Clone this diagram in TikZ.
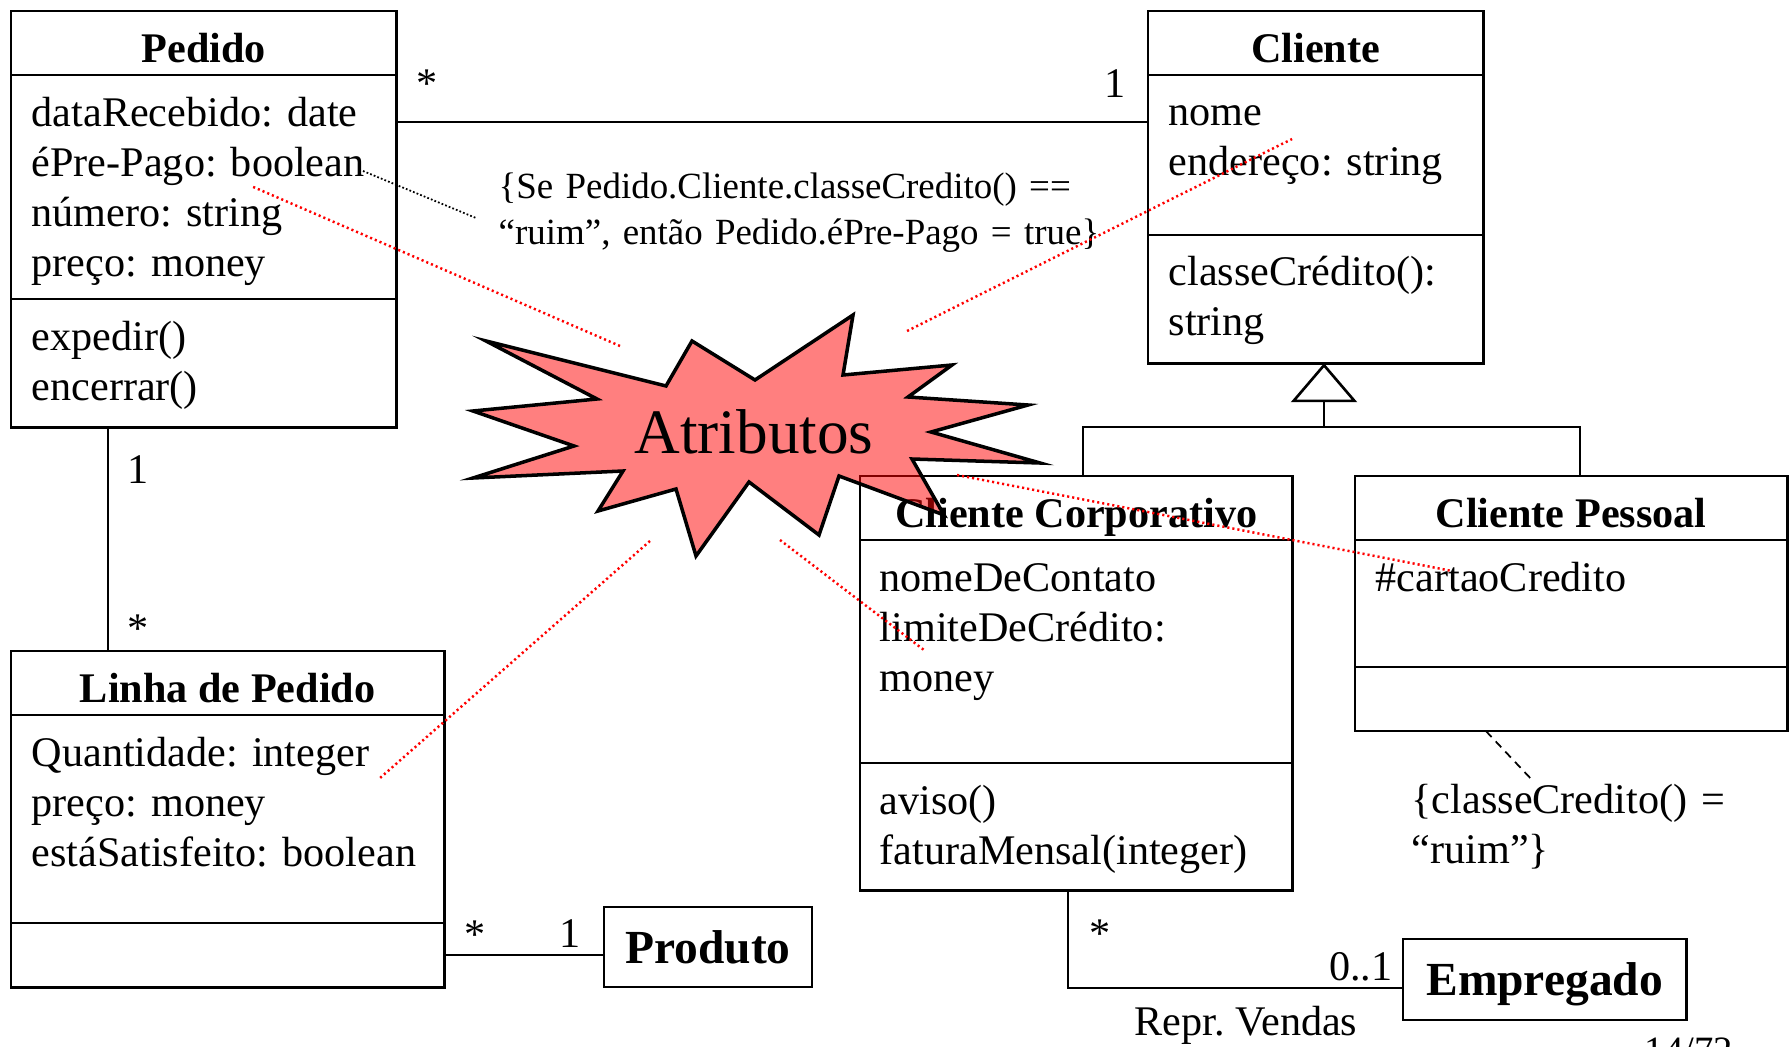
\documentclass[tikz,border=0pt]{standalone}
\usepackage{fontspec}
\setmainfont{Liberation Serif}
\frenchspacing
\usetikzlibrary{positioning,arrows.meta}
\definecolor{burst}{HTML}{FF0000}
\tikzset{
    %Define standard text
    every node/.style={font=\fontsize{12pt}{14.3pt}\selectfont},
    %Define style for class name compartments
    classname/.style={
        rectangle,
        draw=black, line width=0.75pt,
        inner sep=0pt, outer sep=0pt,
        minimum height=0.64cm,
        text height=0.38cm, text depth=0cm,
        font=\fontsize{12pt}{14.3pt}\selectfont\bfseries
    },
    %Define style for attribute and operation compartments
    compart/.style={
        rectangle,
        draw=black, line width=0.75pt,
        inner sep=0pt, outer sep=0pt
    },
    members/.style={
        anchor=base west,
        inner sep=0pt,
        align=left
    },
    %Define style for one-box classes
    bigclass/.style={
        rectangle,
        draw=black, line width=0.75pt,
        inner sep=0pt, outer sep=0pt,
        text height=0.34cm, text depth=0.02cm,
        font=\fontsize{13.5pt}{16pt}\selectfont\bfseries
    },
    mult/.style={anchor=base, inner sep=0pt},
    % Define line styles
    assoc/.style={draw=black, line width=0.75pt},
    hint/.style={draw=burst, line width=0.7pt, dash pattern=on 0.6pt off 0.85pt},
    noteline/.style={draw=black, line width=0.5pt, dash pattern=on 0.5pt off 0.6pt},
    constraint/.style={draw=black, line width=0.5pt, dash pattern=on 2.3pt off 1.7pt}
}

\begin{document}
\begin{tikzpicture}[x=0.01cm,y=-0.01cm]
    \fill[white] (0,0) rectangle (1789,1046);
    \useasboundingbox (0,0) rectangle (1789,1046);
    %classes
    \node[classname, minimum width=3.85cm, anchor=north west] (pedidoT) at (11,11) {Pedido};
    \node[compart, minimum width=3.85cm, minimum height=2.24cm, below=0pt of pedidoT] (pedidoA) {};
    \node[compart, minimum width=3.85cm, minimum height=1.28cm, below=0pt of pedidoA] (pedidoO) {};
    \node[members, text width=3.55cm] (pedidoAtxt) at ([shift={(20,51)}]pedidoA.north west) {dataRecebido: date\\éPre-Pago: boolean\\número: string\\preço: money};
    \node[members, text width=3.55cm] (pedidoOtxt) at ([shift={(20,51)}]pedidoO.north west) {expedir()\\encerrar()};

    \node[classname, minimum width=3.35cm, anchor=north west] (clienteT) at (1148,11) {Cliente};
    \node[compart, minimum width=3.35cm, minimum height=1.60cm, below=0pt of clienteT] (clienteA) {};
    \node[compart, minimum width=3.35cm, minimum height=1.28cm, below=0pt of clienteA] (clienteO) {};
    \node[members, text width=3.05cm] (clienteAtxt) at ([shift={(20,50)}]clienteA.north west) {nome\\endereço: string};
    \node[members, text width=3.05cm] (clienteOtxt) at ([shift={(20,50)}]clienteO.north west) {classeCrédito():\\string};

    \node[classname, minimum width=4.32cm, anchor=north west] (corpT) at (860,476) {Cliente Corporativo};
    \node[compart, minimum width=4.32cm, minimum height=2.23cm, below=0pt of corpT] (corpA) {};
    \node[compart, minimum width=4.32cm, minimum height=1.27cm, below=0pt of corpA] (corpO) {};
    \node[members, text width=4.0cm] (corpAtxt) at ([shift={(19,51)}]corpA.north west) {nomeDeContato\\limiteDeCrédito:\\money};
    \node[members, text width=4.0cm] (corpOtxt) at ([shift={(19,51)}]corpO.north west) {aviso()\\faturaMensal(integer)};

    \node[classname, minimum width=4.32cm, anchor=north west] (pessT) at (1355,476) {Cliente Pessoal};
    \node[compart, minimum width=4.32cm, minimum height=1.27cm, below=0pt of pessT] (pessA) {};
    \node[compart, minimum width=4.32cm, minimum height=0.64cm, below=0pt of pessA] (pessO) {};
    \node[members, text width=4.0cm] (pessAtxt) at ([shift={(20,51)}]pessA.north west) {\#cartaoCredito};

    \node[classname, minimum width=4.33cm, anchor=north west] (linhaT) at (11,651) {Linha de Pedido};
    \node[compart, minimum width=4.33cm, minimum height=2.08cm, below=0pt of linhaT] (linhaA) {};
    \node[compart, minimum width=4.33cm, minimum height=0.64cm, below=0pt of linhaA] (linhaO) {};
    \node[members, text width=4.05cm] (linhaAtxt) at ([shift={(20,51)}]linhaA.north west) {Quantidade: integer\\preço: money\\estáSatisfeito: boolean};

    \node[bigclass, minimum width=2.08cm, minimum height=0.80cm, anchor=north west] (produto) at (604,907) {Produto};
    \node[bigclass, minimum width=2.83cm, minimum height=0.81cm, anchor=north west] (empregado) at (1403,939) {Empregado};

    %associations
    \draw[assoc] (pedidoA.east |- 0,122) -- (clienteA.west |- 0,122);
    \draw[assoc] (pedidoO.south -| 108,0) -- (linhaT.north -| 108,0);
    \draw[assoc] (linhaO.east |- 0,955) -- (produto.west |- 0,955);
    \draw[assoc] (corpO.south -| 1068,0) |- (empregado.west |- 0,988);
    \coordinate (gen) at (1324,427);
    \draw[assoc] (corpT.north -| 1083,0) |- (gen) -| (pessT.north -| 1580,0);
    \draw[assoc, -{Triangle[open, length=0.39cm, width=0.66cm]}] (gen) -- (clienteO.south -| gen);

    %multiplicities
    \node[mult] (m1) at (427,98) {*};
    \node[mult] (m2) at (1115,98) {1};
    \node[mult] (m3) at (138,483) {1};
    \node[mult] (m4) at (138,642) {*};
    \node[mult] (m5) at (475,948) {*};
    \node[mult] (m6) at (570,947) {1};
    \node[mult] (m7) at (1100,947) {*};
    \node[mult, anchor=base east] (m8) at (1393,980) {0..1};
    \node[mult] (role) at (1246,1035) {Repr. Vendas};

    %constraints
    \node[members, text width=6.5cm, font=\fontsize{10.5pt}{12.8pt}\selectfont] (note1) at (498,199) {\{Se Pedido.Cliente.classeCredito() ==\\“ruim”, então Pedido.éPre-Pago = true\}};
    \node[members, text width=3.6cm] (note2) at (1411,813) {\{classeCredito() =\\“ruim”\}};
    \coordinate (boolEnd) at (363,171);
    \coordinate (note1In) at (476,218);
    \draw[noteline] (boolEnd) -- (note1In);
    \coordinate (note2In) at (1533,781);
    \draw[constraint] (pessO.south -| 1486,0) -- (note2In);

    %burst
    \filldraw[fill=burst, fill opacity=0.5, draw=black, line width=1pt]
        (486,341) -- (666,386) -- (692,341) -- (755,380) -- (853,315) -- (843,375)
        -- (952,365) -- (908,397) -- (1028,405) -- (931,432) -- (1040,463) -- (912,459)
        -- (944,515) -- (839,476) -- (819,535) -- (749,482) -- (696,556) -- (676,489)
        -- (598,511) -- (623,471) -- (473,478) -- (574,446) -- (473,411) -- (597,399) -- cycle;
    \node[mult, font=\fontsize{18pt}{21pt}\selectfont] (burstText) at (754,453) {Atributos};

    %pointers to attributes
    \coordinate (b1) at (620,346);
    \coordinate (b2) at (907,331);
    \coordinate (b3) at (650,541);
    \coordinate (b4) at (780,540);
    \coordinate (b5) at (957,475);
    \coordinate (a1) at (251,186);
    \coordinate (a2) at (1292,139);
    \coordinate (a3) at (380,778);
    \coordinate (a4) at (924,650);
    \coordinate (a5) at (1452,571);
    \draw[hint] (b1) -- (a1);
    \draw[hint] (b2) -- (a2);
    \draw[hint] (b3) -- (a3);
    \draw[hint] (b4) -- (a4);
    \draw[hint] (b5) -- (a5);

    \node[mult, anchor=base west, font=\fontsize{11pt}{13pt}\selectfont] (pagenum) at (1644,1063) {14/72};
\end{tikzpicture}
\end{document}
